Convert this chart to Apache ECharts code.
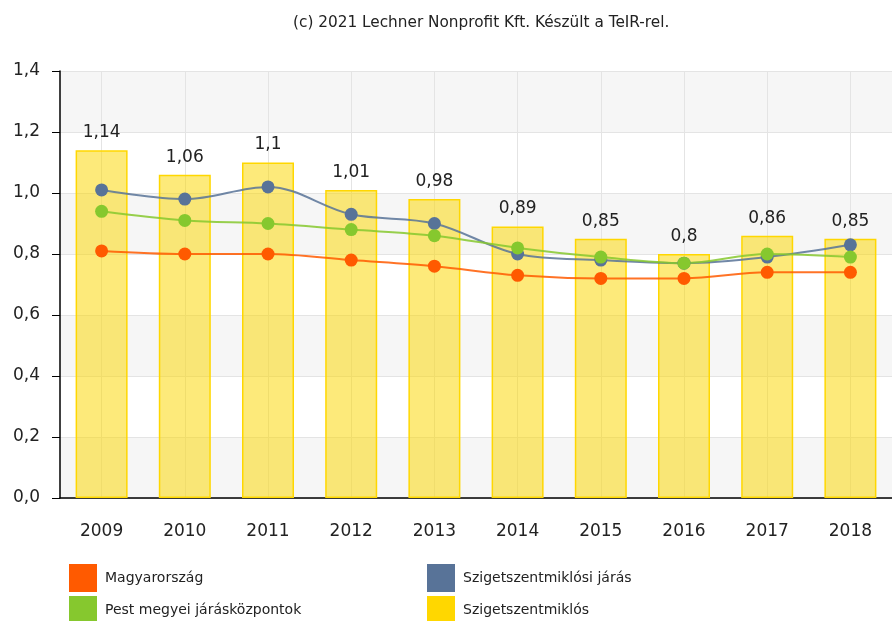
<!DOCTYPE html>
<html lang="hu">
<head>
    <meta charset="UTF-8">
    <title>TeIR diagram</title>
    <style>
        html, body { margin: 0; padding: 0; background: #fff; }
        #main { width: 892px; height: 621px; }
    </style>
</head>
<body>
<div id="main"></div>

<script src="https://cdn.jsdelivr.net/npm/echarts@6/dist/echarts.min.js"></script>
<script>
    // adatok
    var years = ['2009', '2010', '2011', '2012', '2013', '2014', '2015', '2016', '2017', '2018'];
    var yTicks = [0, 0.2, 0.4, 0.6, 0.8, 1.0, 1.2, 1.4];
    var szigetszentmiklos = [1.14, 1.06, 1.1, 1.01, 0.98, 0.89, 0.85, 0.8, 0.86, 0.85];
    var magyarorszag = [0.81, 0.80, 0.80, 0.78, 0.76, 0.73, 0.72, 0.72, 0.74, 0.74];
    var jaras = [1.01, 0.98, 1.02, 0.93, 0.90, 0.80, 0.78, 0.77, 0.79, 0.83];
    var pestKozpontok = [0.94, 0.91, 0.90, 0.88, 0.86, 0.82, 0.79, 0.77, 0.80, 0.79];

    var font = 'DejaVu Sans, Verdana, sans-serif';
    var comma = function (v) { return String(v).replace('.', ','); };

    function lineSerie(name, data, color) {
        return {
            name: name,
            type: 'line',
            data: data,
            smooth: 0.35,
            symbol: 'circle',
            symbolSize: 13,
            itemStyle: { color: color },
            lineStyle: { color: color, width: 2, opacity: 0.85 },
            emphasis: { disabled: true },
            z: 3
        };
    }

    // egy jelmagyarazat-elem = egy legend
    function legendItem(item, left, top) {
        return {
            left: left,
            top: top,
            padding: 0,
            icon: 'rect',
            itemWidth: 28,
            itemHeight: 28,
            itemGap: 0,
            selectedMode: false,
            textStyle: { fontFamily: font, fontSize: 14, color: '#222', padding: [0, 0, 0, 3] },
            data: [item]
        };
    }

    var chart = echarts.init(document.getElementById('main'));
    chart.setOption({
        animation: false,
        title: {
            text: '(c) 2021 Lechner Nonprofit Kft. Készült a TeIR-rel.',
            left: 288,
            top: 11,
            textStyle: { fontFamily: font, fontSize: 15.3, fontWeight: 'normal', color: '#222' }
        },
        legend: [
            legendItem('Magyarország', 69, 564),
            legendItem('Pest megyei járásközpontok', 69, 596),
            legendItem('Szigetszentmiklósi járás', 427, 564),
            legendItem({ name: 'Szigetszentmiklós', itemStyle: { color: '#ffd700', borderWidth: 0 } }, 427, 596)
        ],
        grid: { left: 60, top: 71, width: 843, height: 427, containLabel: false },
        xAxis: {
            type: 'category',
            data: years,
            axisLine: { lineStyle: { color: '#000', width: 1.5 } },
            axisTick: { alignWithLabel: true, length: 8, lineStyle: { color: '#000' } },
            axisLabel: { fontFamily: font, fontSize: 17, color: '#222', margin: 25 },
            splitLine: { show: true, alignWithLabel: true, lineStyle: { color: '#e4e4e4' } }
        },
        yAxis: {
            type: 'value',
            min: yTicks[0],
            max: yTicks[yTicks.length - 1],
            interval: 0.2,
            axisLine: { show: true, lineStyle: { color: '#000', width: 1.5 } },
            axisTick: { show: true, length: 8, lineStyle: { color: '#000' } },
            axisLabel: {
                fontFamily: font, fontSize: 17, color: '#222', margin: 20,
                formatter: function (v) { return v.toFixed(1).replace('.', ','); }
            },
            splitLine: { lineStyle: { color: '#e4e4e4' } },
            splitArea: { show: true, areaStyle: { color: ['#f6f6f6', '#ffffff'] } }
        },
        series: [{
            name: 'Szigetszentmiklós',
            type: 'bar',
            data: szigetszentmiklos,
            barWidth: 52,
            itemStyle: { color: 'rgba(252,214,0,0.52)', borderColor: '#ffd700', borderWidth: 1.5 },
            label: {
                show: true,
                position: 'top',
                distance: 9,
                fontFamily: font,
                fontSize: 17,
                color: '#222',
                formatter: function (p) { return comma(p.value); }
            },
            emphasis: { disabled: true },
            z: 2
        },
            lineSerie('Magyarország', magyarorszag, '#ff5a00'),
            lineSerie('Szigetszentmiklósi járás', jaras, '#587398'),
            lineSerie('Pest megyei járásközpontok', pestKozpontok, '#86c82e')
        ]
    });
</script>
</body>
</html>
